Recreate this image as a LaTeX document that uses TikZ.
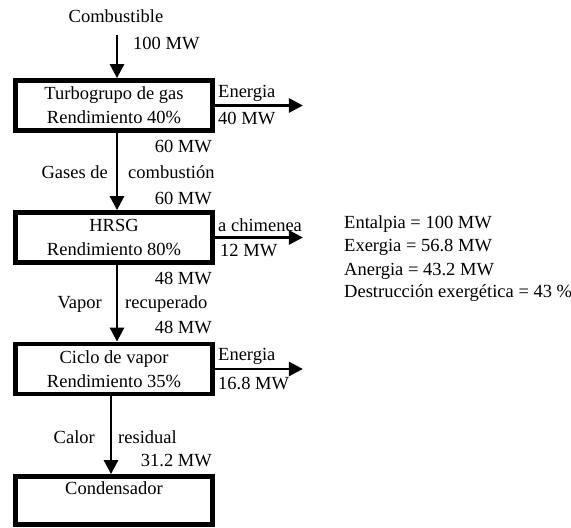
\documentclass[tikz,border=0pt]{standalone}
\usepackage{fontspec}
\setmainfont{Liberation Serif}
\usetikzlibrary{arrows.meta}
\begin{document}
\begin{tikzpicture}[x=1pt,y=-1pt,
  every node/.style={font=\fontsize{18.5}{24}\selectfont, inner sep=0pt},
  box/.style={draw, line width=4.8pt, minimum width=197pt, minimum height=50pt, align=center},
  flow/.style={line width=2.8pt, -{Triangle[width=14pt,length=14pt]}},
  lblL/.style={anchor=east},
  lblR/.style={anchor=west}]
\useasboundingbox (0,0) rectangle (571,528);
% boxes
\node[box] (b1) at (114,105.5) {Turbogrupo de gas\\Rendimiento 40\%};
\node[box] (b2) at (114,237.5) {HRSG\\Rendimiento 80\%};
\node[box] (b3) at (114,369) {Ciclo de vapor\\Rendimiento 35\%};
\node[box, minimum height=48pt] (b4) at (114,500.5) {};
\node (t4) at (114,488) {Condensador};
% vertical flows
\coordinate (c0) at (117,35);
\draw[flow] (c0) -- (c0 |- b1.north);
\draw[flow] (117,0 |- b1.south) -- (117,0 |- b2.north);
\draw[flow] (117,0 |- b2.south) -- (117,0 |- b3.north);
\draw[flow] (111,0 |- b3.south) -- (111,0 |- b4.north);
% horizontal outputs
\draw[flow] (b1.east) -- ++(88,0);
\draw[flow] (b2.east) -- ++(88,0);
\draw[flow] (b3.east) -- ++(88,0);
% labels
\node (l1) at (116,16) {Combustible};
\node[lblR] (l2) at (133,43) {100 MW};
\node[lblR] (l3) at (218,93) {Energia};
\node[lblR] (l4) at (218,118) {40 MW};
\node[lblL] (l5) at (212,146) {60 MW};
\node[lblL] (l6) at (108,172) {Gases de};
\node[lblR] (l7) at (128,172) {combustión};
\node[lblL] (l8) at (212,198) {60 MW};
\node[lblR] (l9) at (218,225) {a chimenea};
\node[lblR] (l10) at (220,251) {12 MW};
\node[lblL] (l11) at (212,278) {48 MW};
\node[lblL] (l12) at (102,304) {Vapor};
\node[lblR] (l13) at (125,304) {recuperado};
\node[lblL] (l14) at (212,327) {48 MW};
\node[lblR] (l15) at (218,356) {Energia};
\node[lblR] (l16) at (218,383) {16.8 MW};
\node[lblL] (l17) at (95,437) {Calor};
\node[lblR] (l18) at (118,437) {residual};
\node[lblL] (l19) at (212,461) {31.2 MW};
% summary
\node[lblR] (s1) at (344,224) {Entalpia = 100 MW};
\node[lblR] (s2) at (344,247) {Exergia = 56.8 MW};
\node[lblR] (s3) at (344,271) {Anergia = 43.2 MW};
\node[lblR] (s4) at (344,293) {Destrucción exergética = 43 \%};
\end{tikzpicture}
\end{document}
